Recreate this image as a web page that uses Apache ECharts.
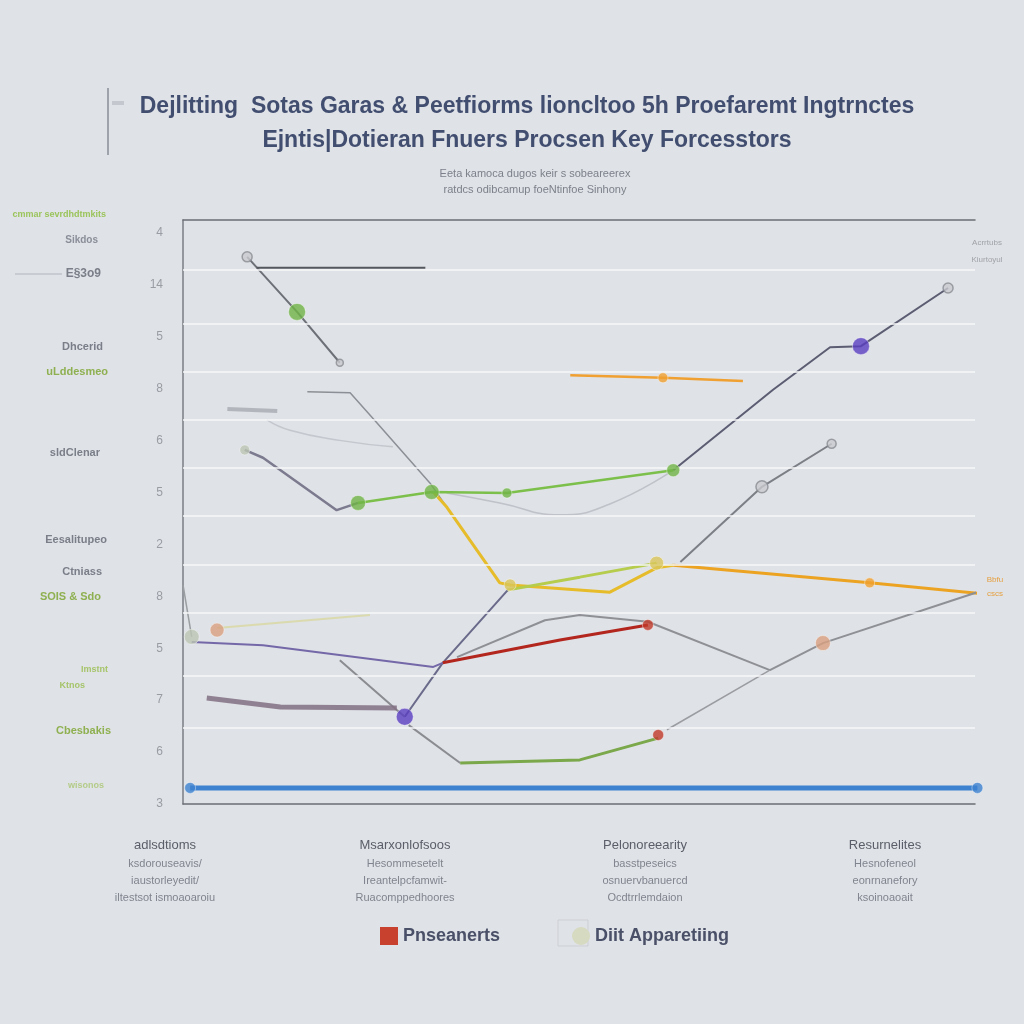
<!DOCTYPE html>
<html><head><meta charset="utf-8">
<script src="https://cdn.jsdelivr.net/npm/echarts@6/dist/echarts.min.js"></script>
<style>html,body{margin:0;padding:0;background:#dfe2e7;}#c{width:1024px;height:1024px;}</style>
</head><body><div id="c"></div>
<script>
// ---------- data ----------
const titleLines = ["Dejlitting  Sotas Garas & Peetfiorms lioncltoo 5h Proefaremt Ingtrnctes", "Ejntis|Dotieran Fnuers Procsen Key Forcesstors"];
const subLines = ["Eeta kamoca dugos keir s sobeareerex", "ratdcs odibcamup foeNtinfoe Sinhony"];
const yTickLabels = ["3","6","7","5","8","2","5","6","8","5","14","4"]; // from value 0 upward
const gridValues = [10.29, 9.25, 8.32, 7.40, 6.47, 5.55, 4.60, 3.68, 2.47, 1.46];
const xCatTitles = ["adlsdtioms", "Msarxonlofsoos", "Pelonoreearity", "Resurnelites"];
const xCatLines = [
  ["ksdorouseavis/", "iaustorleyedit/", "iltestsot ismoaoaroiu"],
  ["Hesommesetelt", "Ireantelpcfamwit-", "Ruacomppedhoores"],
  ["basstpeseics", "osnuervbanuercd", "Ocdtrrlemdaion"],
  ["Hesnofeneol", "eonrnanefory", "ksoinoaoait"]
];
const legendNames = ["Pnseanerts", "Diit Apparetiing"];

const greyDrop = [[8.1,10.54],[14.4,9.48],[19.8,8.50]];
const darkFlat = [[9.3,10.33],[30.6,10.33]];
const leftPointer = [[-7.1,8.90],[0,8.32]];
const leftPointer2 = [[-8.6,1.46],[-5.4,2.33]];
const fadedBar = [[5.6,7.61],[11.9,7.57]];
const faintCurve = [[10.6,7.40],[13.5,7.20],[20,7.0],[26.5,6.88]];
const greyDown = [[15.7,7.94],[21.1,7.92],[24.5,7.34],[31.2,6.18],[33.3,5.72]];
const faintTail = [[33.3,5.99],[40,5.8],[47.6,5.57],[53.9,5.78],[61.9,6.43]];
const purpleGrey = [[7.8,6.82],[10.1,6.67],[19.4,5.66],[22.1,5.80]];
const greenMid = [[22.1,5.80],[31.4,6.01],[40.9,5.99],[61.9,6.43]];
const darkRise = [[61.9,6.43],[74.5,7.98],[81.7,8.80],[85.6,8.82],[96.6,9.94]];
const orangeShort = [[48.9,8.26],[60.6,8.21],[70.7,8.15]];
const greyRight = [[62.8,4.66],[73.1,6.11],[81.9,6.94]];
const yellowLine = [[31.6,6.01],[33.3,5.72],[40.0,4.26],[41.3,4.22],[53.9,4.08],[59.8,4.55],[61.9,4.60]];
const yellowGreen = [[40.9,4.12],[50.1,4.37],[59.8,4.64]];
const orangeLong = [[61.9,4.60],[86.7,4.26],[100.3,4.06]];
const purpleUp = [[28.0,1.68],[32.8,2.72],[41.0,4.12]];
const purpleLow = [[1.1,3.12],[10.1,3.06],[31.6,2.64],[32.8,2.72]];
const redLine = [[32.8,2.72],[47.6,3.16],[58.7,3.45]];
const greyMid = [[34.6,2.83],[45.7,3.54],[50.1,3.64],[58.7,3.51],[74.1,2.58],[80.8,3.10],[100.3,4.08]];
const greyToLow = [[74.1,2.58],[61.1,1.43]];
const greyLowStart = [[28.5,1.52],[35.0,0.79]];
const greenLow = [[35.0,0.79],[50.1,0.85],[60.0,1.27]];
const greyToPurple = [[19.8,2.77],[27.0,1.81],[28.0,1.68]];
const mauveThick = [[3.0,2.04],[12.3,1.87],[27.0,1.85]];
const leftGrey = [[0,4.22],[1.1,3.22]];
const faintYellow = [[4.3,3.39],[23.6,3.64]];
const blueBase = [[0.9,0.31],[100.3,0.31]];

const greenDots = [[14.4,9.48,17],[22.1,5.80,15],[31.4,6.01,15],[40.9,5.99,10],[61.9,6.43,13]];
const greyDots = [[8.1,10.54,10],[73.1,6.11,12],[96.6,9.94,10],[81.9,6.94,9],[19.8,8.50,7]];
const purpleDots = [[85.6,8.82,17],[28.0,1.68,17]];
const orangeDots = [[60.6,8.21,10],[86.7,4.26,10]];
const redDots = [[58.7,3.45,11],[60.0,1.33,11]];
const peachDots = [[4.3,3.35,14],[80.8,3.10,15]];
const paleDots = [[1.1,3.22,15],[7.8,6.82,10]];
const yellowDots = [[41.3,4.22,12],[59.8,4.64,14]];
const blueDots = [[0.9,0.31,11],[100.3,0.31,11]];

// ---------- chart ----------
const chart = echarts.init(document.getElementById('c'));
function line(name, data, color, width, extra) {
  return Object.assign({
    type: 'line', name: name, data: data, xAxisIndex: 0, yAxisIndex: 0,
    showSymbol: false, symbol: 'none', clip: false, silent: true, z: 3,
    lineStyle: { color: color, width: width }, itemStyle: { color: color }
  }, extra || {});
}
function dots(name, data, color, extra) {
  return Object.assign({
    type: 'scatter', name: name, data: data, xAxisIndex: 0, yAxisIndex: 0, clip: false, z: 5,
    symbolSize: function (d) { return d[2]; },
    itemStyle: { color: color, borderColor: 'rgba(255,255,255,0.5)', borderWidth: 1 }
  }, extra || {});
}

const series = [
  { type: 'line', name: 'grid', data: [], xAxisIndex: 0, yAxisIndex: 0, z: 1, silent: true,
    markLine: { silent: true, symbol: ['none','none'], label: { show: false },
      lineStyle: { color: '#f6f7f9', type: 'solid', width: 1.5 },
      data: gridValues.map(v => ({ yAxis: v })) } },
  line('greyDrop', greyDrop, '#6e7078', 2),
  line('darkFlat', darkFlat, '#55575e', 2),
  line('leftPointer', leftPointer, '#8a8c92', 1),
  line('leftPointer2', leftPointer2, '#8a8c92', 1),
  line('fadedBar', fadedBar, 'rgba(150,152,160,0.6)', 4),
  line('faintCurve', faintCurve, 'rgba(170,172,180,0.5)', 1.5, { smooth: true }),
  line('greyDown', greyDown, '#8d8f96', 1.5),
  line('faintTail', faintTail, 'rgba(160,162,170,0.5)', 1.5, { smooth: true }),
  line('purpleGrey', purpleGrey, '#7b7a8e', 2.5),
  line('greenMid', greenMid, '#7cc04b', 2.5, { z: 4 }),
  line('darkRise', darkRise, '#5c5d72', 2),
  line('orangeShort', orangeShort, '#f0a030', 2.5),
  line('greyRight', greyRight, '#7d7f86', 2),
  line('yellowLine', yellowLine, '#e6bc2a', 3),
  line('yellowGreen', yellowGreen, '#b5cc4c', 3),
  line('orangeLong', orangeLong, '#eca321', 3),
  line('purpleUp', purpleUp, '#6a6a8a', 2),
  line('purpleLow', purpleLow, '#7468a8', 2),
  line(legendNames[0], redLine, '#b3261e', 3, { itemStyle: { color: '#c0392b' } }),
  line('greyMid', greyMid, '#8e9096', 2),
  line('greyToLow', greyToLow, '#9a9ca2', 1.5),
  line('greyLowStart', greyLowStart, '#8a8c92', 2),
  line('greenLow', greenLow, '#7aa84a', 3),
  line('greyToPurple', greyToPurple, '#8a8c92', 2),
  line('mauveThick', mauveThick, 'rgba(130,112,130,0.85)', 5),
  line('leftGrey', leftGrey, '#9a9ea0', 1.5),
  line('faintYellow', faintYellow, 'rgba(215,215,150,0.7)', 2),
  line('blueBase', blueBase, '#3d82d0', 5),
  line(legendNames[1], [], '#d9dcc3', 2),
  dots('greenDots', greenDots, '#6fb446'),
  dots('greyDots', greyDots, '#c4c6cb', { itemStyle: { color: '#c9cbd0', borderColor: '#8a8c92', borderWidth: 1.5 } }),
  dots('purpleDots', purpleDots, '#5a3fc0'),
  dots('orangeDots', orangeDots, '#f0a030'),
  dots('redDots', redDots, '#c0392b'),
  dots('peachDots', peachDots, '#d8a080'),
  dots('paleDots', paleDots, '#bcc6b4'),
  dots('yellowDots', yellowDots, '#d9c65a'),
  dots('blueDots', blueDots, '#3d82d0')
];

const leftLabels = [
  ['cmmar sevrdhdtmkits', 106, 215, '#9bc45a', 9],
  ['Sikdos', 98, 240, '#8a8e98', 10],
  ['E§3o9', 101, 274, '#7a7e88', 12],
  ['Dhcerid', 103, 347, '#7a7e88', 11],
  ['uLddesmeo', 108, 372, '#8fb050', 11],
  ['sldClenar', 100, 453, '#7a7e88', 11],
  ['Eesalitupeo', 107, 540, '#7a7e88', 11],
  ['Ctniass', 102, 572, '#7a7e88', 11],
  ['SOIS & Sdo', 101, 597, '#8fb050', 11],
  ['Imstnt', 108, 670, '#a6c46a', 9],
  ['Ktnos', 85, 686, '#a6c46a', 9],
  ['Cbesbakis', 111, 731, '#8fb050', 11],
  ['wisonos', 104, 786, '#b4cc88', 9]
];
const rightLabels = [
  ['Acrrtubs', 987, 243, '#a0a2a8', 8],
  ['Kiurtoyul', 987, 260, '#a0a2a8', 8],
  ['Bbfu', 995, 580, '#e6a040', 8],
  ['cscs', 995, 594, '#e6a040', 8]
];

const graphic = [
  { type: 'line', shape: { x1: 108, y1: 88, x2: 108, y2: 155 }, style: { stroke: '#9ea2aa', lineWidth: 2 } },
  { type: 'line', shape: { x1: 112, y1: 103, x2: 124, y2: 103 }, style: { stroke: '#c4c7cd', lineWidth: 4 } },
  { type: 'line', shape: { x1: 15, y1: 274, x2: 62, y2: 274 }, style: { stroke: '#c8cbd1', lineWidth: 2 } },
  { type: 'rect', shape: { x: 558, y: 920, width: 30, height: 26 }, style: { fill: 'none', stroke: 'rgba(200,204,210,0.8)', lineWidth: 1 } }
].concat(leftLabels.map(l => ({
  type: 'text', x: l[1], y: l[2], style: { text: l[0], fill: l[3], font: 'bold ' + l[4] + 'px "Liberation Sans", Arial', align: 'right', verticalAlign: 'middle' }
}))).concat(rightLabels.map(l => ({
  type: 'text', x: l[1], y: l[2], style: { text: l[0], fill: l[3], font: l[4] + 'px "Liberation Sans", Arial', align: 'center', verticalAlign: 'middle' }
})));

chart.setOption({
  backgroundColor: '#dfe2e7',
  animation: false,
  title: [
    { text: titleLines.join('\n'), left: 522, textAlign: 'center', top: 85,
      textStyle: { fontFamily: '"Liberation Sans", Arial', fontWeight: 'bold', fontSize: 23, lineHeight: 34, color: '#424e70' } },
    { text: subLines.join('\n'), left: 530, textAlign: 'center', top: 161,
      textStyle: { fontFamily: '"Liberation Sans", Arial', fontWeight: 'normal', fontSize: 11, lineHeight: 16, color: '#7c808a' } }
  ],
  legend: {
    data: [{ name: legendNames[0], icon: 'rect', itemStyle: { color: '#c8402e' } },
           { name: legendNames[1], icon: 'circle', itemStyle: { color: '#d6dac0' } }],
    left: 375, top: 922, itemWidth: 18, itemHeight: 18, itemGap: 72,
    textStyle: { fontFamily: '"Liberation Sans", Arial', fontWeight: 'bold', fontSize: 18, color: '#4a5068' }
  },
  graphic: graphic,
  grid: [
    { left: 183, right: 49, top: 220, bottom: 220 },
    { left: 45, right: 19, top: 827, bottom: 196 }
  ],
  xAxis: [
    { type: 'value', gridIndex: 0, min: 0, max: 100, position: 'bottom',
      axisLine: { show: true, lineStyle: { color: '#6b6e76', width: 1.5 } },
      axisTick: { show: false }, axisLabel: { show: false }, splitLine: { show: false } },
    { type: 'value', gridIndex: 0, min: 0, max: 100, position: 'top',
      axisLine: { show: true, onZero: false, lineStyle: { color: '#6b6e76', width: 1.5 } },
      axisTick: { show: false }, axisLabel: { show: false }, splitLine: { show: false } },
    { type: 'category', gridIndex: 1, data: xCatTitles, boundaryGap: true,
      axisLine: { show: false }, axisTick: { show: false },
      axisLabel: { margin: 8, interval: 0,
        formatter: function (v, i) { return '{a|' + v + '}\n' + xCatLines[i].map(s => '{b|' + s + '}').join('\n'); },
        rich: {
          a: { fontFamily: '"Liberation Sans", Arial', fontSize: 13, color: '#5a5e68', lineHeight: 19 },
          b: { fontFamily: '"Liberation Sans", Arial', fontSize: 11, color: '#80848e', lineHeight: 17 }
        } } }
  ],
  yAxis: [
    { type: 'value', gridIndex: 0, min: 0, max: 11.25, interval: 1,
      axisLine: { show: true, lineStyle: { color: '#7a7d85', width: 1.5 } },
      axisTick: { show: false }, splitLine: { show: false },
      axisLabel: { margin: 20, color: '#9a9ca3', fontSize: 12, fontFamily: '"Liberation Sans", Arial',
        formatter: function (v) { return Number.isInteger(v) && yTickLabels[v] !== undefined ? yTickLabels[v] : ''; } } },
    { type: 'value', gridIndex: 1, show: false }
  ],
  series: series
});
</script>
</body></html>
